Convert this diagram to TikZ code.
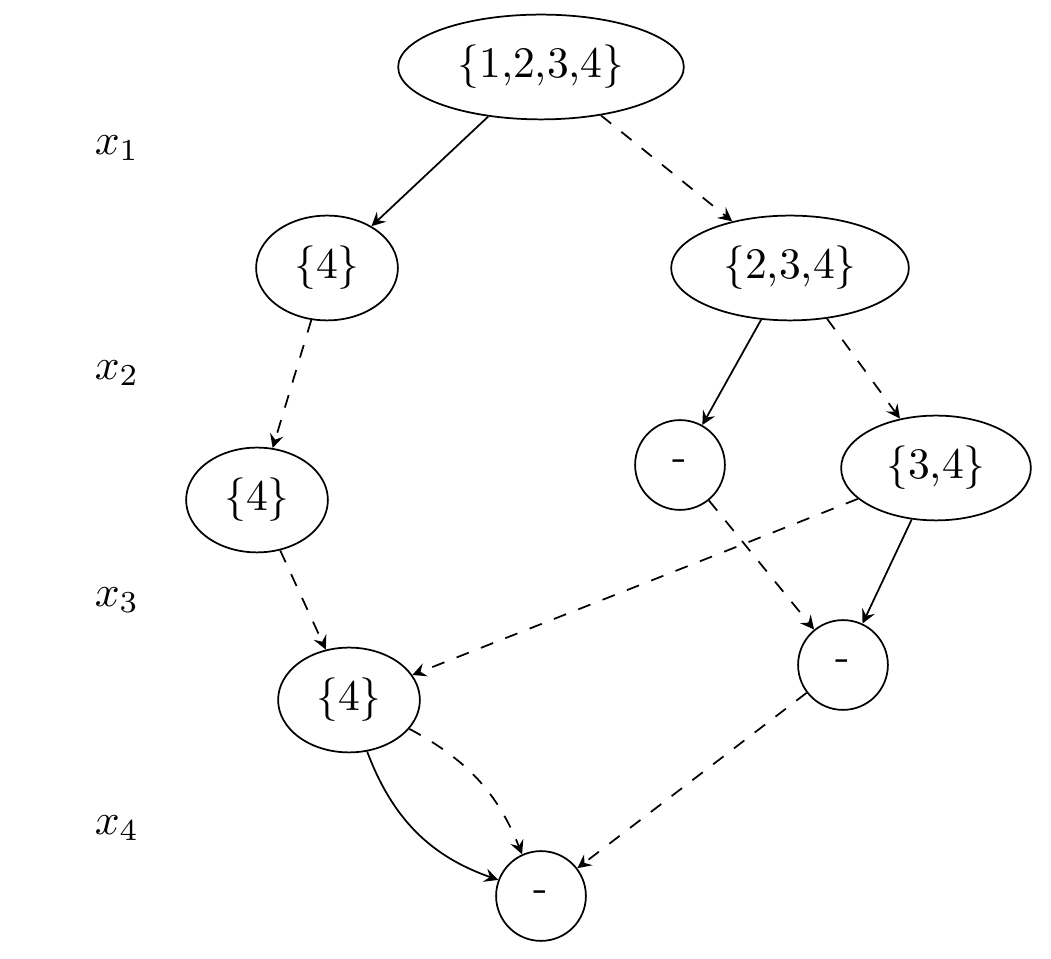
\documentclass[tikz,border=0pt]{standalone}
\usetikzlibrary{shapes.geometric,arrows}
\begin{document}
\begin{tikzpicture}[x=0.2294pt,y=-0.2294pt,>=stealth,
  setnode/.style={draw,ellipse,line width=0.4pt,inner xsep=4pt,inner ysep=3.5pt},
  emptynode/.style={draw,circle,minimum size=20.6pt,inner sep=0pt},
  lvl/.style={inner sep=0pt},
  hi/.style={->},
  lo/.style={->,dashed}]
\useasboundingbox (0,0) rectangle (1051,959);
\node[setnode] (r) at (541,67) {\{1,2,3,4\}};
\node[setnode] (a) at (327,268) {\{4\}};
\node[setnode] (b) at (790,268) {\{2,3,4\}};
\node[setnode] (c) at (257,500) {\{4\}};
\node[emptynode] (d) at (680,465) {-};
\node[setnode] (e) at (936,468) {\{3,4\}};
\node[setnode] (f) at (349,700) {\{4\}};
\node[emptynode] (g) at (843,665) {-};
\node[emptynode] (h) at (541,896) {-};
\node[lvl] (x1) at (117,148) {$x_1$};
\node[lvl] (x2) at (117,373) {$x_2$};
\node[lvl] (x3) at (117,600) {$x_3$};
\node[lvl] (x4) at (117,828) {$x_4$};
\draw[hi] (r) -- (a);
\draw[lo] (r) -- (b);
\draw[lo] (a) -- (c);
\draw[hi] (b) -- (d);
\draw[lo] (b) -- (e);
\draw[lo] (d) -- (g);
\draw[hi] (e) -- (g);
\draw[lo] (e) -- (f);
\draw[lo] (c) -- (f);
\draw[hi] (f) to[bend right=25] (h);
\draw[lo] (f) to[bend left=20] (h);
\draw[lo] (g) -- (h);
\end{tikzpicture}
\end{document}
